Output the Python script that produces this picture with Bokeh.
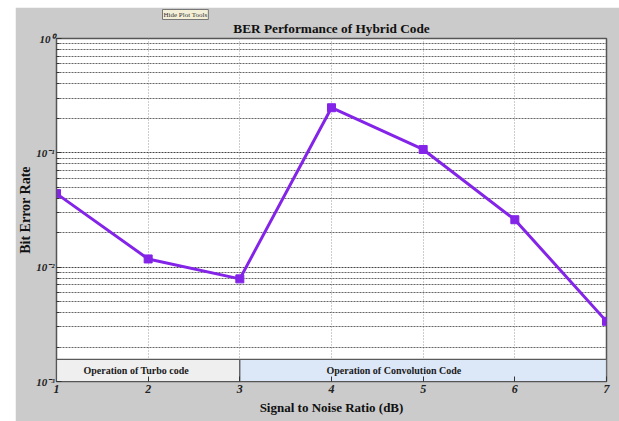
from bokeh.plotting import figure
from bokeh.models import (Range1d, FixedTicker, CustomJSTickFormatter, Title, ColumnDataSource)
from bokeh.core.properties import value
from bokeh.embed import file_html
from bokeh.resources import INLINE

# ---- data ----
snr_db = [1, 2, 3, 4, 5, 6, 7]
ber = [0.044, 0.0118, 0.0079, 0.248, 0.107, 0.026, 0.00336]

y_major_ticks = [1e-3, 1e-2, 1e-1, 1.0]
x_ticks = [1, 2, 3, 4, 5, 6, 7]

region_labels = ["Operation of Turbo code", "Operation of Convolution Code"]
region_start = [1, 3]
region_end = [3, 7]
region_bottom = [1e-3, 1e-3]
region_top = [1.56e-3, 1.56e-3]
region_label_x = [1.87, 4.68]
region_label_y = [1.25e-3, 1.25e-3]
region_fill = ["#efefef", "#dce8f8"]

title_text = "BER Performance of Hybrid Code"
tools_text = "Hide Plot Tools"
x_label = "Signal to Noise Ratio (dB)"
y_label = "Bit Error Rate"

# minor ticks 2..9 per decade
minor = []
for d in y_major_ticks[:-1]:
    for k in range(2, 10):
        minor.append(d * k)

SERIF = "Liberation Serif"
BG = "#cbcbcb"
LINE = "#8424e8"

p = figure(width=604, height=414, y_axis_type="log",
           x_range=Range1d(1, 7), y_range=Range1d(1e-3, 1.0),
           output_backend="svg", toolbar_location=None,
           margin=(7, 0, 0, 15),
           min_border_left=40, min_border_right=13,
           min_border_top=31, min_border_bottom=40)

p.background_fill_color = "white"
p.border_fill_color = BG
p.outline_line_color = "#555555"
p.outline_line_width = 1.5

# titles: main title next to the frame, tool-button text above it
p.title = None
p.add_layout(Title(text=title_text, align="center", text_font=SERIF,
                   text_font_size="13.3px", text_font_style="bold",
                   text_color="#111111", standoff=6), "above")
p.add_layout(Title(text=tools_text, align="left", offset=106, text_font=SERIF,
                   text_font_size="7px", text_font_style="normal",
                   text_color="#333333", background_fill_color="#f4f0d8",
                   border_line_color="#777777", padding=1, standoff=-8), "above")

# axes
p.xaxis.ticker = FixedTicker(ticks=x_ticks)
p.yaxis.ticker = FixedTicker(ticks=y_major_ticks, minor_ticks=minor)
p.yaxis.formatter = CustomJSTickFormatter(code="""
const e = Math.round(Math.log10(tick));
const sup = {'-':'\u207b','0':'\u2070','1':'\u00b9','2':'\u00b2','3':'\u00b3','4':'\u2074','5':'\u2075','6':'\u2076','7':'\u2077','8':'\u2078','9':'\u2079'};
return '10' + String(e).split('').map(c => sup[c]).join('');
""")

for ax in (p.xaxis[0], p.yaxis[0]):
    ax.axis_line_color = "#555555"
    ax.major_tick_in = 5
    ax.major_tick_out = 0
    ax.minor_tick_in = 3
    ax.minor_tick_out = 0
    ax.major_tick_line_color = "#333333"
    ax.minor_tick_line_color = "#333333"
    ax.major_label_text_font = SERIF
    ax.major_label_text_font_style = "bold italic"
    ax.major_label_text_color = "#222222"
    ax.axis_label_text_font = SERIF
    ax.axis_label_text_font_style = "bold"
    ax.axis_label_text_color = "#111111"

p.xaxis.axis_label = x_label
p.xaxis.major_label_text_font_size = "12px"
p.xaxis.axis_label_text_font_size = "13px"
p.xaxis.major_label_standoff = 3
p.xaxis.axis_label_standoff = 4
p.yaxis.axis_label = y_label
p.yaxis.major_label_text_font_size = "11px"
p.yaxis.axis_label_text_font_size = "14px"
p.yaxis.major_label_standoff = 2
p.yaxis.axis_label_standoff = 0

# grids
p.xgrid.grid_line_color = "#9a9a9a"
p.xgrid.grid_line_dash = "1 2"
p.ygrid.grid_line_color = "#444444"
p.ygrid.grid_line_dash = "2 1"
p.ygrid.minor_grid_line_color = "#555555"
p.ygrid.minor_grid_line_dash = "2 1"
p.ygrid.minor_grid_line_alpha = 0.9

# region boxes
src = ColumnDataSource(dict(left=region_start, right=region_end, bottom=region_bottom,
                            top=region_top, fill=region_fill, label=region_labels,
                            lx=region_label_x, ly=region_label_y))
p.quad(left="left", right="right", bottom="bottom", top="top", fill_color="fill",
       line_color="#5a5a5a", line_width=1.2, source=src)
p.text(x="lx", y="ly", text="label", source=src, text_font=value(SERIF),
       text_font_style="bold", text_font_size="10px", text_align="center",
       text_baseline="middle", text_color="#1a1a1a")

# data line
p.line(snr_db, ber, line_color=LINE, line_width=3)
p.scatter(snr_db, ber, marker="square", size=8, fill_color=LINE, line_color=LINE)

open("out.html", "w").write(file_html(p, INLINE))
